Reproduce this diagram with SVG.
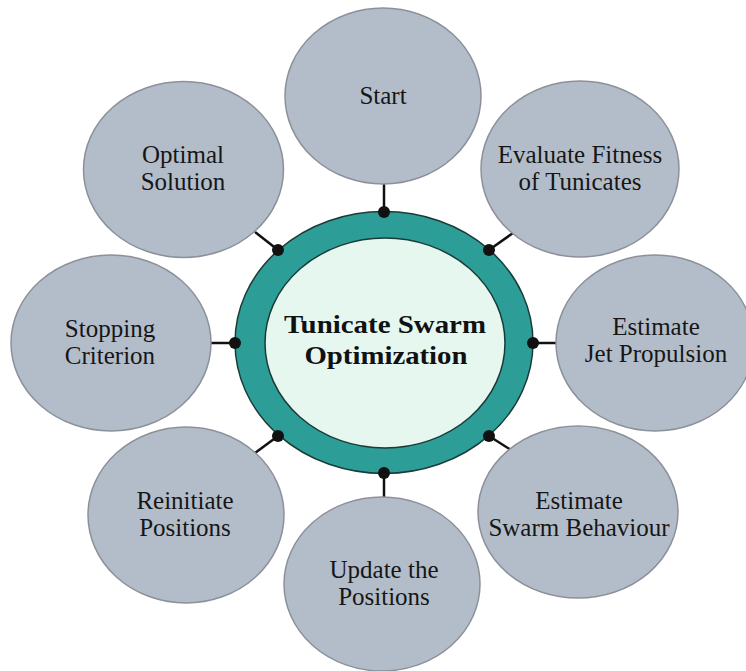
<svg xmlns="http://www.w3.org/2000/svg" width="746" height="671" viewBox="0 0 746 671">
  <style>
    .node ellipse { fill: #b3bdca; stroke: #8c9199; stroke-width: 1.5; }
    .label { font-family: "Liberation Serif", "Times New Roman", serif; font-size: 25px; fill: #161616; text-anchor: middle; }
    .title { font-family: "Liberation Serif", "Times New Roman", serif; font-size: 26px; font-weight: bold; fill: #111; text-anchor: middle; }
    .link { stroke: #111; stroke-width: 2.5; fill: none; }
    .dot { fill: #111; }
  </style>
  <rect width="746" height="671" fill="#ffffff"/>

  <!-- connectors from the hub ring to each step -->
  <g id="connectors">
    <line class="link" x1="384" y1="183" x2="384" y2="212"/>
    <line class="link" x1="513" y1="233" x2="489" y2="250"/>
    <line class="link" x1="556" y1="343" x2="533" y2="343"/>
    <line class="link" x1="511" y1="450" x2="489" y2="436"/>
    <line class="link" x1="384" y1="497" x2="384" y2="473"/>
    <line class="link" x1="255" y1="453" x2="278" y2="436"/>
    <line class="link" x1="211" y1="343" x2="235" y2="343"/>
    <line class="link" x1="255" y1="232" x2="278" y2="250"/>
  </g>

  <!-- central hub -->
  <g id="hub">
    <ellipse cx="384" cy="342.5" rx="149" ry="131" fill="#2c9e97" stroke="#1b3b38" stroke-width="1.5"/>
    <ellipse cx="385" cy="343" rx="120" ry="105" fill="#e6f7f0" stroke="#1b3b38" stroke-width="1.5"/>
    <text class="title" x="385" y="333" textLength="202" lengthAdjust="spacingAndGlyphs">Tunicate Swarm</text>
    <text class="title" x="386" y="364" textLength="163" lengthAdjust="spacingAndGlyphs">Optimization</text>
  </g>

  <!-- attachment dots on the ring -->
  <g id="ports">
    <circle class="dot" cx="384" cy="212" r="6"/>
    <circle class="dot" cx="489" cy="250" r="6"/>
    <circle class="dot" cx="533" cy="343" r="6"/>
    <circle class="dot" cx="489" cy="436" r="6"/>
    <circle class="dot" cx="384" cy="473" r="6"/>
    <circle class="dot" cx="278" cy="436" r="6"/>
    <circle class="dot" cx="235" cy="343" r="6"/>
    <circle class="dot" cx="278" cy="250" r="6"/>
  </g>

  <g id="start" class="node">
    <ellipse cx="383" cy="96" rx="98" ry="88"/>
    <text class="label" x="383" y="104">Start</text>
  </g>

  <g id="evaluate-fitness" class="node">
    <ellipse cx="580" cy="169" rx="99" ry="88"/>
    <text class="label" x="580" y="163">Evaluate Fitness</text>
    <text class="label" x="580" y="190">of Tunicates</text>
  </g>

  <g id="jet-propulsion" class="node">
    <ellipse cx="655" cy="343" rx="99" ry="88"/>
    <text class="label" x="656" y="335">Estimate</text>
    <text class="label" x="656" y="362">Jet Propulsion</text>
  </g>

  <g id="swarm-behaviour" class="node">
    <ellipse cx="578" cy="512" rx="100" ry="86"/>
    <text class="label" x="579" y="509">Estimate</text>
    <text class="label" x="579" y="536">Swarm Behaviour</text>
  </g>

  <g id="update-positions" class="node">
    <ellipse cx="382" cy="584" rx="98" ry="87"/>
    <text class="label" x="384" y="578">Update the</text>
    <text class="label" x="384" y="605">Positions</text>
  </g>

  <g id="reinitiate-positions" class="node">
    <ellipse cx="186" cy="515" rx="98" ry="88"/>
    <text class="label" x="185" y="509">Reinitiate</text>
    <text class="label" x="185" y="536">Positions</text>
  </g>

  <g id="stopping-criterion" class="node">
    <ellipse cx="111" cy="343" rx="100" ry="88"/>
    <text class="label" x="110" y="337">Stopping</text>
    <text class="label" x="110" y="364">Criterion</text>
  </g>

  <g id="optimal-solution" class="node">
    <ellipse cx="183.5" cy="169.5" rx="100" ry="88"/>
    <text class="label" x="183" y="163">Optimal</text>
    <text class="label" x="183" y="190">Solution</text>
  </g>
</svg>
